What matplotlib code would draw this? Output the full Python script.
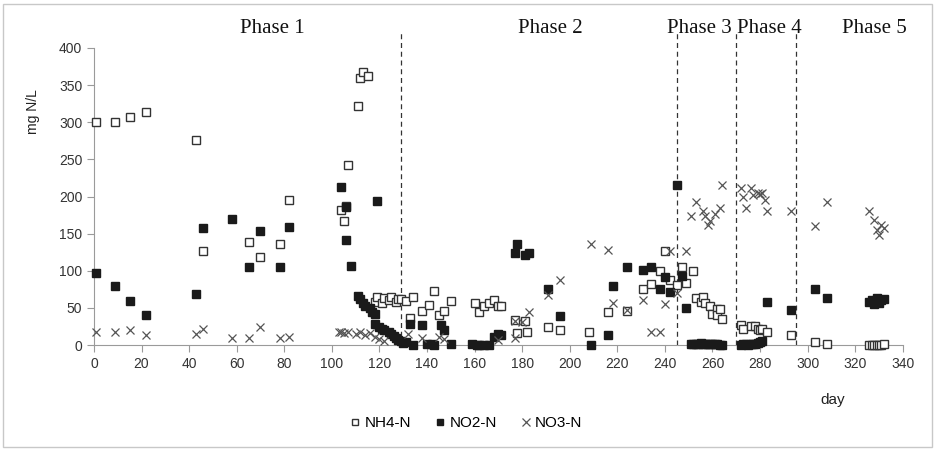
import matplotlib.pyplot as plt
import matplotlib.patches as mpatches

# --- data ---
nh4_day = [1, 9, 15, 22, 43, 46, 65, 70, 78, 82,
           104, 105, 106, 107, 111, 112, 113, 115,
           118, 119, 121, 122, 124, 125, 127, 128,
           129, 131, 133, 134, 138, 141, 143, 145, 147, 150,
           160, 162, 164, 166, 168, 170, 171,
           177, 178, 181, 182, 191, 196,
           208, 216, 224, 231, 234, 238, 240, 242,
           245, 247, 249, 252, 253, 255, 256, 257, 259, 260, 262, 262, 264, 263,
           272, 273, 276, 278, 279, 280, 281, 283, 293,
           303, 308, 326, 327, 328, 329, 330, 331, 332]
nh4_val = [301, 301, 307, 314, 276, 127, 139, 118, 136, 195,
           182, 167, 187, 242, 322, 360, 368, 362,
           58, 64, 57, 63, 60, 64, 58, 62,
           62, 59, 36, 64, 46, 54, 73, 40, 46, 59,
           57, 45, 53, 57, 61, 53, 52,
           34, 16, 33, 18, 24, 20,
           17, 44, 46, 75, 82, 100, 126, 88,
           81, 105, 83, 100, 63, 58, 64, 56, 52, 42, 49, 40, 35, 49,
           27, 22, 25, 26, 22, 20, 22, 18, 13,
           4, 1, 0, 0, 0, 0, 0, 0, 1]

no2_day = [1, 9, 15, 22, 43, 46, 58, 65, 70, 78, 82,
           104, 106, 106, 108, 119,
           111, 112, 113, 114, 116, 117, 118,
           118, 120, 121, 122, 124, 125, 126, 127, 128, 129, 130, 131, 133, 134,
           138, 140, 142, 143, 146, 147, 150, 159, 161, 162, 164, 166, 168, 170, 171,
           177, 178, 181, 183, 191, 196,
           209, 216, 218, 224, 231, 234, 238, 240, 242,
           245, 247, 249, 251, 252, 253, 254, 255, 256, 257, 258, 259, 260, 261, 262, 263, 264,
           272, 273, 274, 275, 276, 277, 278, 279, 280, 281, 283, 293,
           303, 308, 326, 327, 328, 329, 330, 331, 332]
no2_val = [97, 79, 59, 41, 69, 157, 170, 105, 154, 105, 159,
           213, 186, 141, 107, 194,
           66, 62, 57, 52, 50, 45, 42,
           28, 24, 22, 20, 18, 15, 12, 9, 7, 5, 3, 4, 28, 0,
           27, 1, 1, 0, 27, 20, 1, 1, 0, 0, 0, 0, 11, 15, 13,
           124, 136, 121, 124, 76, 39,
           0, 14, 80, 105, 101, 105, 76, 91, 72,
           216, 93, 50, 1, 2, 1, 2, 3, 2, 1, 2, 1, 1, 2, 1, 0, 0,
           0, 1, 1, 0, 1, 1, 2, 3, 4, 5, 58, 47,
           76, 63, 58, 61, 55, 63, 57, 60, 62]

no3_day = [1, 9, 15, 22, 43, 46, 58, 65, 70, 78, 82,
           103, 104, 105, 107, 110, 112, 114, 116, 118, 120, 122,
           132, 138, 145, 147, 170, 177, 177, 180, 183, 191, 196,
           209, 216, 218, 224, 231, 234, 238, 240, 242,
           245, 249, 251, 253, 256, 257, 258, 259, 261, 263, 264,
           272, 273, 274, 276, 277, 279, 280, 281, 282, 283, 293,
           303, 308, 326, 328, 329, 330, 331, 332]
no3_val = [17, 18, 20, 14, 15, 22, 9, 10, 24, 9, 11,
           17, 18, 16, 17, 15, 17, 14, 16, 11, 8, 6,
           15, 9, 11, 8, 7, 9, 33, 31, 44, 67, 88,
           136, 128, 57, 47, 61, 17, 17, 55, 126,
           70, 127, 174, 192, 180, 174, 162, 167, 177, 185, 216,
           211, 200, 185, 211, 202, 205, 204, 205, 195, 181, 180,
           160, 193, 180, 169, 155, 148, 162, 157]

phase_bounds = [129, 245, 270, 295]
phase_names = ['Phase 1', 'Phase 2', 'Phase 3', 'Phase 4', 'Phase 5']
phase_pos = [75, 192, 254.5, 284, 328]

fig = plt.figure(figsize=(9.35, 4.49), dpi=100)
ax = fig.add_axes([0.1005, 0.2316, 0.865, 0.6615])

ax.plot(nh4_day, nh4_val, 's', ms=5.5, mfc='white', mec='#333333', mew=1.0,
        clip_on=False, label='NH4-N', zorder=3)
ax.plot(no2_day, no2_val, 's', ms=5.5, mfc='#1a1a1a', mec='#1a1a1a', mew=1.0,
        clip_on=False, label='NO2-N', zorder=3)
ax.plot(no3_day, no3_val, 'x', ms=6, mec='#555555', mew=0.9,
        clip_on=False, label='NO3-N', zorder=3)

# phase separators
for b in phase_bounds:
    ax.axvline(b, ymin=0, ymax=1.055, color='#333333', ls=(0, (4, 3)), lw=0.9,
               clip_on=False, zorder=1)
for name, p in zip(phase_names, phase_pos):
    ax.text(p, 1.035, name, transform=ax.get_xaxis_transform(), ha='center',
            va='bottom', fontsize=15, family='Liberation Serif', color='#111111')

ax.set_xlim(0, 340)
ax.set_ylim(0, 400)
ax.set_xticks(range(0, 341, 20))
ax.set_yticks(range(0, 401, 50))
for s in ['top', 'right']:
    ax.spines[s].set_visible(False)
for s in ['left', 'bottom']:
    ax.spines[s].set_color('#9a9a9a')
ax.tick_params(colors='#9a9a9a', length=5, width=0.8, labelsize=10,
               labelcolor='#333333')
for lab in ax.get_xticklabels() + ax.get_yticklabels():
    lab.set_family('Liberation Sans')

fig.text(33 / 935, 1 - 112 / 449, 'mg N/L', rotation=90, ha='center', va='center',
         fontsize=10, family='Liberation Sans', color='#222222')
fig.text(833 / 935, 1 - 400 / 449, 'day', ha='center', va='center',
         fontsize=11, family='Liberation Sans', color='#222222')

leg = fig.legend(loc='center', bbox_to_anchor=(465 / 935, 1 - 423 / 449), ncol=3,
                 frameon=False, handletextpad=0.1, columnspacing=1.4,
                 markerscale=0.85, handlelength=1.0,
                 prop={'family': 'Liberation Sans', 'size': 11})

# light frame around the figure
fig.patches.append(mpatches.Rectangle((0.003, 0.004), 0.994, 0.988, transform=fig.transFigure,
                                      fill=False, edgecolor='#c8c8c8', lw=1))

plt.savefig('out.png', dpi=100)
